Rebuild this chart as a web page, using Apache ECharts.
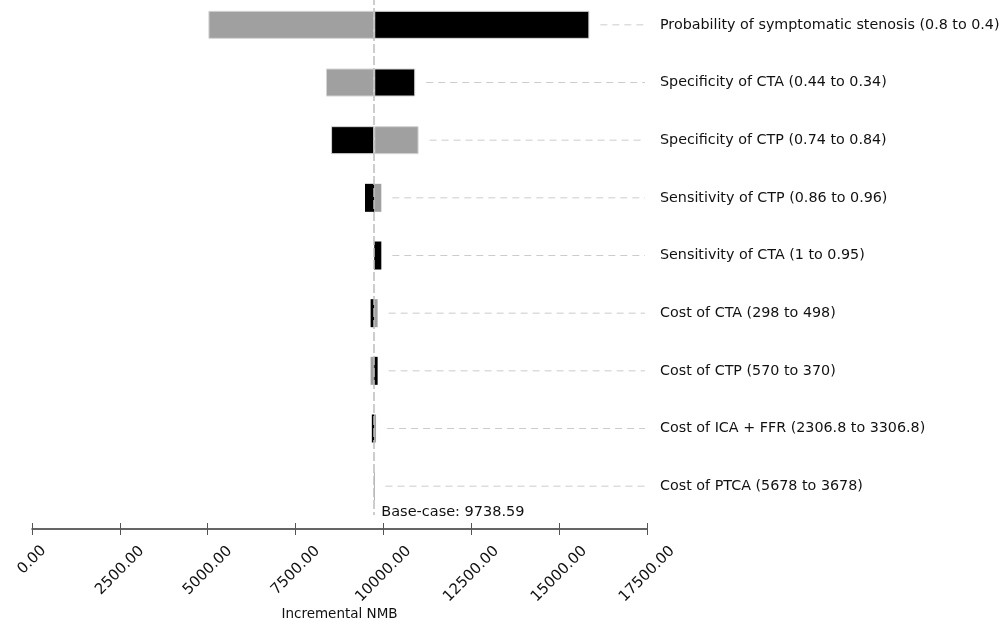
<!DOCTYPE html>
<html>
<head>
<meta charset="utf-8">
<title>Tornado diagram – Incremental NMB</title>
<script src="https://cdn.jsdelivr.net/npm/echarts@6/dist/echarts.min.js"></script>
<style>
  html, body { margin: 0; padding: 0; background: #ffffff; }
  #chart { width: 1006px; height: 628px; }
</style>
</head>
<body>
<div id="chart"></div>
<script>
// One-way sensitivity parameters, top to bottom
const parameters = [
  'Probability of symptomatic stenosis (0.8 to 0.4)',
  'Specificity of CTA (0.44 to 0.34)',
  'Specificity of CTP (0.74 to 0.84)',
  'Sensitivity of CTP (0.86 to 0.96)',
  'Sensitivity of CTA (1 to 0.95)',
  'Cost of CTA (298 to 498)',
  'Cost of CTP (570 to 370)',
  'Cost of ICA + FFR (2306.8 to 3306.8)',
  'Cost of PTCA (5678 to 3678)'
];

// Incremental NMB at each end of the range (black and grey bars)
const blackValues = [15860, 10905, 8510, 9475, 9940, 9635, 9835, 9670, 9745];
const grayValues  = [5020, 8365, 11000, 9940, 9738.59, 9835, 9635, 9790, 9730];

// Base-case incremental NMB
const baseCase = 9738.59;

// Value axis range
const axisMin = 0;
const axisMax = 17500;
const axisStep = 2500;

const BLACK = '#000000';
const GREY = '#a0a0a0';
const FONT = 'DejaVu Sans';

// Split every row into the part left of the base case and the part right of it
const lows = parameters.map((_, i) => Math.min(blackValues[i], grayValues[i], baseCase));
const highs = parameters.map((_, i) => Math.max(blackValues[i], grayValues[i], baseCase));

function segment(value, color) {
  // thin bars are drawn without an outline so their fill stays visible
  return {
    value: value,
    itemStyle: { color: color, borderColor: '#d4d4d4', borderWidth: value > 400 ? 1 : 0 }
  };
}

const offsetData = lows;
const leftData = parameters.map((_, i) =>
  segment(baseCase - lows[i], blackValues[i] < baseCase ? BLACK : GREY));
const rightData = parameters.map((_, i) =>
  segment(highs[i] - baseCase, blackValues[i] > baseCase ? BLACK : GREY));

const chart = echarts.init(document.getElementById('chart'), null, { renderer: 'canvas' });

const tickLabelStyle = { fontFamily: FONT, fontSize: 15, color: '#111' };

const option = {
  animation: false,
  backgroundColor: '#ffffff',
  grid: {
    left: 32, right: 359, top: -4, bottom: 113,
    containLabel: false,
    outerBoundsMode: 'none'
  },
  xAxis: [
    {
      type: 'value',
      min: axisMin, max: axisMax, interval: axisStep,
      position: 'bottom',
      offset: 14,
      splitLine: { show: false },
      axisLine: { show: true, lineStyle: { color: '#333', width: 1.5 } },
      axisTick: { show: true, length: 6, lineStyle: { color: '#555', width: 1 } },
      axisLabel: {
        rotate: 45,
        align: 'center',
        verticalAlign: 'middle',
        margin: 31,
        fontFamily: FONT, fontSize: 15, color: '#111',
        formatter: v => {
          const s = v.toFixed(2);
          return '{r' + s.length + '|' + s + '}';
        },
        rich: {
          r4: Object.assign({}, tickLabelStyle),
          r7: Object.assign({ padding: [15, 15, 0, 0] }, tickLabelStyle),
          r8: Object.assign({ padding: [20, 20, 0, 0] }, tickLabelStyle)
        }
      },
      name: 'Incremental NMB',
      nameLocation: 'middle',
      nameGap: 78,
      nameMoveOverlap: false,
      nameTextStyle: { fontFamily: FONT, fontSize: 13.5, color: '#111' }
    },
    {
      // upward half of the crossing tick marks
      type: 'value',
      min: axisMin, max: axisMax, interval: axisStep,
      position: 'bottom',
      offset: 14,
      splitLine: { show: false },
      axisLine: { show: false },
      axisTick: { show: true, inside: true, length: 6, lineStyle: { color: '#555', width: 1 } },
      axisLabel: { show: false }
    }
  ],
  yAxis: {
    type: 'category',
    data: parameters,
    inverse: true,
    position: 'right',
    axisLine: { show: false },
    axisTick: { show: false },
    splitLine: { show: false },
    axisLabel: {
      margin: 13,
      align: 'left',
      fontFamily: FONT, fontSize: 14.3, color: '#111'
    }
  },
  series: [
    {
      // dashed leaders from each bar to its parameter label
      type: 'custom',
      silent: true,
      encode: { x: 1, y: 0 },
      data: parameters.map((_, i) => [i, highs[i]]),
      renderItem: (params, api) => {
        const p = api.coord([api.value(1), api.value(0)]);
        const x0 = p[0] + 11;
        const x1 = params.coordSys.x + params.coordSys.width - 2;
        return {
          type: 'line',
          shape: { x1: x0, y1: p[1], x2: x1, y2: p[1] },
          style: { stroke: '#cccccc', lineWidth: 1, lineDash: [7, 5] }
        };
      }
    },
    {
      type: 'bar',
      stack: 'tornado',
      silent: true,
      barWidth: 28,
      itemStyle: { color: 'rgba(0,0,0,0)' },
      data: offsetData
    },
    {
      type: 'bar',
      stack: 'tornado',
      silent: true,
      barWidth: 28,
      data: leftData
    },
    {
      type: 'bar',
      stack: 'tornado',
      silent: true,
      barWidth: 28,
      data: rightData,
      markLine: {
        silent: true,
        symbol: 'none',
        animation: false,
        lineStyle: { color: '#bdbdbd', width: 1.5, type: [9, 3] },
        label: { show: false },
        data: [{ xAxis: baseCase }]
      }
    }
  ]
};

chart.setOption(option);

// Base-case caption beside the foot of the base-case line
const basePx = chart.convertToPixel({ xAxisIndex: 0 }, baseCase);
chart.setOption({
  graphic: [{
    type: 'text',
    left: basePx + 7,
    top: 505,
    silent: true,
    style: {
      text: 'Base-case: ' + baseCase.toFixed(2),
      font: '14.5px "DejaVu Sans"',
      fill: '#111'
    }
  }]
});
</script>
</body>
</html>
